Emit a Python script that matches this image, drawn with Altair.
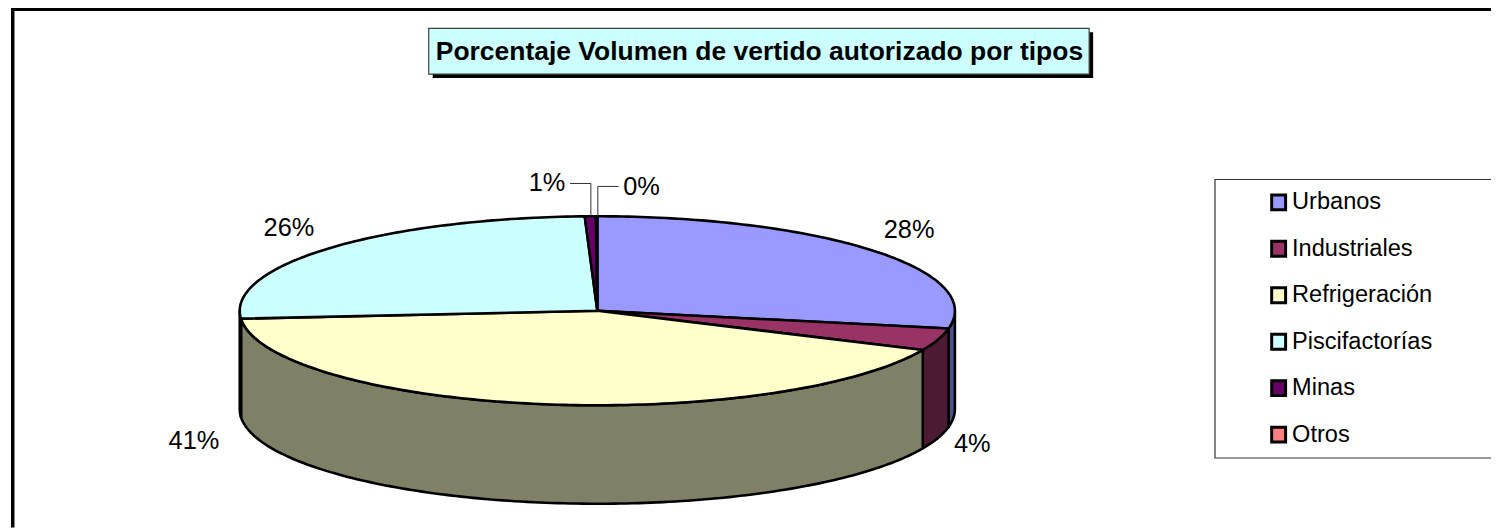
import math
import altair as alt
import pandas as pd

categories = ["Urbanos", "Industriales", "Refrigeración", "Piscifactorías", "Minas", "Otros"]
shares = [28.0, 3.8, 41.87, 25.77, 0.5, 0.06]
pct_labels = ["28%", "4%", "41%", "26%", "1%", "0%"]
top_colors = ["#9999FF", "#993366", "#FFFFCC", "#CCFFFF", "#660066", "#FF8080"]
side_colors = ["#50508A", "#4D1A33", "#808066", "#668080", "#330033", "#804040"]

# page-pixel layout
CX, CY, RX, RY, DEPTH = 600.5, 311, 359.5, 95, 99
label_pos = [(914, 230), (977.5, 445), (195, 442), (290.5, 228), (550, 183), (645, 187)]
TITLE = "Porcentaje Volumen de vertido autorizado por tipos"

X = alt.X("x:Q", axis=None, scale=alt.Scale(domain=[8, 1499], range=[0, 1491], nice=False, zero=False))
Y = alt.Y("y:Q", axis=None, scale=alt.Scale(domain=[8, 529], range=[0, 521], nice=False, zero=False))


def pt(deg, drop=0):
    a = math.radians(deg)
    return CX + RX * math.sin(a), CY - RY * math.cos(a) + drop


def arc_angles(a, b):
    n = max(2, int(abs(b - a)) + 2)
    return [a + (b - a) * i / (n - 1) for i in range(n)]


def poly(points, fill, stroke="black", sw=2.6):
    d = pd.DataFrame({"x": [p[0] for p in points], "y": [p[1] for p in points], "i": range(len(points))})
    return alt.Chart(d).mark_line(fill=fill, stroke=stroke, strokeWidth=sw, strokeJoin="round").encode(
        x=X, y=Y, order="i:Q")


def seg(points, stroke="black", sw=1):
    d = pd.DataFrame({"x": [p[0] for p in points], "y": [p[1] for p in points], "i": range(len(points))})
    return alt.Chart(d).mark_line(stroke=stroke, strokeWidth=sw).encode(x=X, y=Y, order="i:Q")


def box(x0, y0, x1, y1, fill, stroke=None, sw=1):
    d = pd.DataFrame({"x": [x0], "x2": [x1], "y": [y0], "y2": [y1]})
    kw = dict(fill=fill)
    if stroke:
        kw.update(stroke=stroke, strokeWidth=sw)
    return alt.Chart(d).mark_rect(**kw).encode(x=X, x2="x2:Q", y=Y, y2="y2:Q")


def text(x, y, s, size, weight="normal", align="center"):
    d = pd.DataFrame({"x": [x], "y": [y], "t": [s]})
    return alt.Chart(d).mark_text(font="Liberation Sans", fontSize=size, fontWeight=weight, align=align,
                                  baseline="middle", color="black").encode(x=X, y=Y, text="t:N")


layers = []
# frame
layers.append(box(11, 6, 14.5, 529, "black"))
layers.append(box(11, 6, 1499, 9.5, "black"))
# title
layers.append(box(435, 31, 1099, 77, "black"))
layers.append(box(431, 27, 1095, 73, "#CCFFFF", "#404040", 1.2))
layers.append(text(763.5, 51, TITLE, 26.6, "bold"))

# pie walls then tops
edges = [0]
for s in shares:
    edges.append(edges[-1] + s * 3.6)
walls, tops = [], []
for i, c in enumerate(top_colors):
    a, b = edges[i], edges[i + 1]
    lo, hi = max(a, 90), min(b, 270)
    if lo < hi:
        angs = arc_angles(lo, hi)
        pts = [pt(t) for t in angs] + [pt(t, DEPTH) for t in reversed(angs)]
        pts.append(pts[0])
        walls.append(poly(pts, side_colors[i]))
    pts = [(CX, CY)] + [pt(t) for t in arc_angles(a, b)] + [(CX, CY)]
    tops.append(poly(pts, c))
layers += walls + tops

# percent labels and leaders
for s, (x, y) in zip(pct_labels, label_pos):
    layers.append(text(x, y, s, 25.5))
layers.append(seg([(573, 183), (594, 183), (594, 216)], "#303030"))
layers.append(seg([(622, 186), (601, 186), (601, 216)], "#303030"))

# legend
layers.append(box(1221.5, 179, 1520, 459, "white", "#333333", 1.2))
for i, (n, c) in enumerate(zip(categories, top_colors)):
    yy = 202 + i * 46.7
    layers.append(box(1278.5, yy - 7.5, 1292.5, yy + 7.5, c, "black", 3))
    layers.append(text(1299, yy, n, 23.7, align="left"))

chart = alt.layer(*layers).properties(
    width=1491, height=521, padding=0, autosize=alt.AutoSizeParams(type="none"),
    background="white",
).configure_view(stroke="transparent")
chart.save("out.html", embed_options={"renderer": "svg", "actions": False})
